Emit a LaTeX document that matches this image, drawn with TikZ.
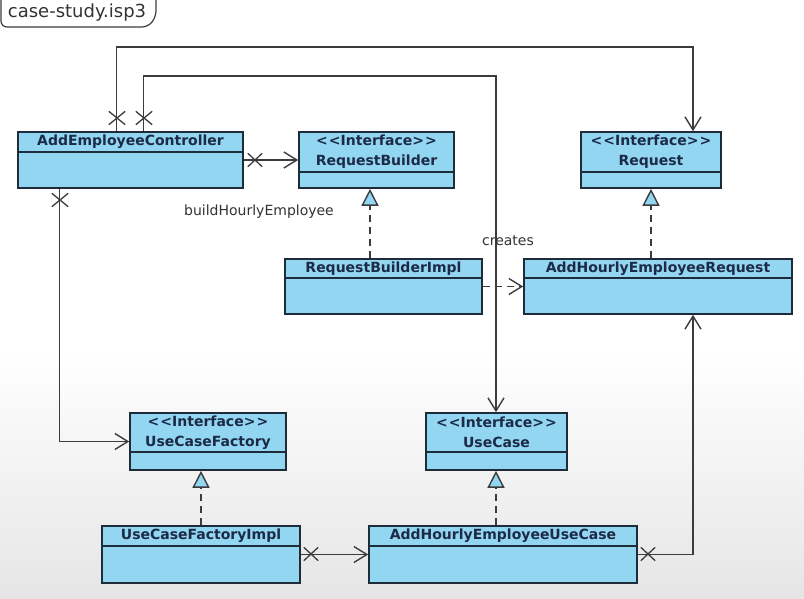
\documentclass[tikz,border=0pt]{standalone}
\usepackage{fontspec}
\setmainfont{DejaVu Sans}
\usetikzlibrary{arrows.meta,shapes.misc,fit,calc}
\definecolor{boxblue}{HTML}{92D6F2}
\definecolor{boxline}{HTML}{1E2B38}
\definecolor{hdrtext}{HTML}{1C2A46}
\definecolor{conn}{HTML}{3C3C3C}
\definecolor{lbl}{HTML}{333333}
\newcommand\umlcls[7]{%
  \node[clsbox, fit={(#2,#3) (#4,#5)}] (#1) {};
  \draw[clsdiv] (#2,#6) -- (#4,#6);
  \node[hdr] at ({(#2+#4)/2},{(#3+#6)/2}) {#7};
}
\newcommand\ifc{<\kern1pt<Interface>\kern1pt>}
\tikzset{
  clsbox/.style={draw=boxline, fill=boxblue, line width=1.6pt, inner sep=0pt},
  clsdiv/.style={draw=boxline, line width=1.4pt},
  hdr/.style={text=hdrtext, font=\fontsize{14}{20}\selectfont\bfseries, align=center, inner sep=0pt},
  lbltext/.style={text=lbl, font=\fontsize{14}{16}\selectfont, inner sep=0pt},
  assoc/.style={draw=conn, line width=1.4pt, -{Straight Barb[length=13pt,width=16pt,line width=1.4pt]}},
  dep/.style={assoc, dash pattern=on 7pt off 5pt},
  real/.style={draw=conn, line width=1.4pt, dash pattern=on 7pt off 5pt, -{Triangle[length=17pt,width=17pt,fill=boxblue,line width=1.4pt]}},
  xmark/.style={cross out, draw=conn, line width=1.3pt, minimum width=13pt, minimum height=12pt, inner sep=0pt},
}
\begin{document}
\begin{tikzpicture}[x=1pt,y=-1pt]
\useasboundingbox (0,0) rectangle (804,599);
\fill[white] (0,0) rectangle (804,599);
\shade[top color=white, bottom color=black!10] (0,350) rectangle (804,599);

% tab
\draw[conn, line width=1.2pt, rounded corners=6pt] (1,-3) -- (1,27) -- (148,27) -- (156,17) -- (156,-3);
\node[text=lbl, font=\fontsize{18}{20}\selectfont, inner sep=0pt] (tab) at (77,13) {case-study.isp3};

% classes
\umlcls{aec}{18}{132}{243}{188}{152}{AddEmployeeController}
\umlcls{rb}{299}{132}{454}{188}{172}{\ifc\\RequestBuilder}
\umlcls{req}{581}{132}{721}{188}{172}{\ifc\\Request}
\umlcls{rbi}{285}{259}{482}{314}{278}{RequestBuilderImpl}
\umlcls{aher}{524}{259}{792}{314}{278}{AddHourlyEmployeeRequest}
\umlcls{ucf}{130}{413}{286}{470}{452}{\ifc\\UseCaseFactory}
\umlcls{uc}{426}{413}{567}{470}{452}{\ifc\\UseCase}
\umlcls{ucfi}{102}{526}{300}{583}{546}{UseCaseFactoryImpl}
\umlcls{aheuc}{369}{526}{637}{583}{546}{AddHourlyEmployeeUseCase}

% helper coordinates
\coordinate (t1) at (693,47);
\coordinate (t2) at (496,76);
\coordinate (xr1) at (370,0);
\coordinate (xr2) at (651,0);
\coordinate (xr3) at (201,0);
\coordinate (xr4) at (496,0);
\coordinate (xr5) at (693,0);

% associations
\draw[assoc] ([xshift=99pt]aec.north west) |- (t1) -- (req.north -| t1);
\draw[assoc] ([xshift=126pt]aec.north west) |- (t2) -- (uc.north -| t2);
\draw[assoc] (aec.east) -- (rb.west);
\draw[assoc] ([xshift=42pt]aec.south west) |- (ucf.west);
\draw[assoc] (ucfi.east) -- (aheuc.west);
\draw[assoc] (aheuc.east) -| (aher.south -| xr5);
\draw[dep] (rbi.east) -- (aher.west);

% realizations
\draw[real] (rbi.north -| xr1) -- (rb.south -| xr1);
\draw[real] (aher.north -| xr2) -- (req.south -| xr2);
\draw[real] (ucfi.north -| xr3) -- (ucf.south -| xr3);
\draw[real] (aheuc.north -| xr4) -- (uc.south -| xr4);

% association end marks
\node[xmark, minimum width=15pt, minimum height=12pt] (m1) at (117,118) {};
\node[xmark, minimum width=15pt, minimum height=12pt] (m2) at (144,118) {};
\node[xmark] (m3) at (255,160) {};
\node[xmark, minimum width=15pt, minimum height=12pt] (m4) at (60,200) {};
\node[xmark] (m5) at (311,554) {};
\node[xmark] (m6) at (648,554) {};

% labels
\node[lbltext] (l1) at (259,212) {buildHourlyEmployee};
\node[lbltext] (l2) at (508,241) {creates};
\end{tikzpicture}
\end{document}
